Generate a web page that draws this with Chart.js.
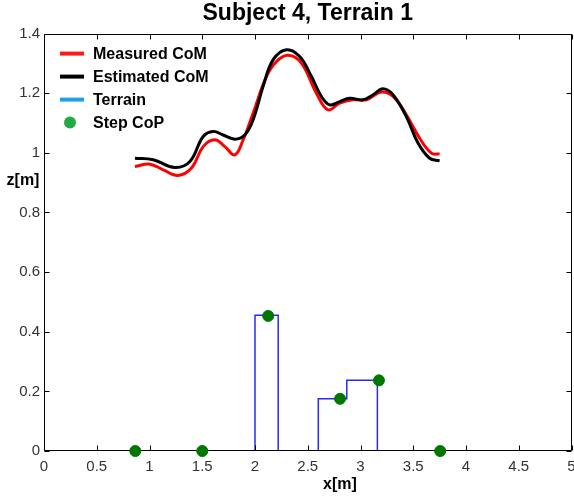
<!DOCTYPE html>
<html>
<head>
<meta charset="utf-8">
<title>Subject 4, Terrain 1</title>
<script src="https://cdn.jsdelivr.net/npm/chart.js@4.4.0/dist/chart.umd.min.js"></script>
<style>
    html, body { margin: 0; background: #fff; overflow: hidden; }
    canvas { display: block; }
</style>
</head>
<body>
<canvas id="myChart" width="578" height="497"></canvas>
<script>
// Measured CoM
var measuredX = [0.862, 1.004, 1.13, 1.27, 1.398, 1.509, 1.619, 1.714, 1.809, 1.888, 1.982, 2.108, 2.203, 2.314, 2.44, 2.582, 2.692, 2.803, 2.929, 3.056, 3.198, 3.308, 3.434, 3.561, 3.672, 3.75];
var measuredZ = [0.954, 0.962, 0.943, 0.924, 0.949, 1.021, 1.044, 1.021, 0.993, 1.044, 1.133, 1.256, 1.306, 1.327, 1.301, 1.200, 1.144, 1.167, 1.178, 1.178, 1.204, 1.189, 1.128, 1.049, 0.999, 0.996];

// Estimated CoM
var estimatedX = [0.862, 1.035, 1.24, 1.383, 1.509, 1.603, 1.698, 1.809, 1.903, 1.982, 2.077, 2.171, 2.298, 2.424, 2.535, 2.63, 2.708, 2.803, 2.898, 3.024, 3.119, 3.213, 3.308, 3.434, 3.545, 3.655, 3.75];
var estimatedZ = [0.982, 0.977, 0.951, 0.971, 1.055, 1.072, 1.060, 1.046, 1.060, 1.111, 1.223, 1.312, 1.346, 1.323, 1.256, 1.189, 1.161, 1.172, 1.183, 1.178, 1.195, 1.215, 1.195, 1.122, 1.033, 0.982, 0.973];

// Terrain (height changes at each x)
var terrainX = [0, 2.0, 2.22, 2.6, 2.87, 3.16, 5];
var terrainZ = [0, 0.455, 0, 0.175, 0.237, 0, 0];

// Step CoP
var copX = [0.865, 1.5, 2.125, 2.806, 3.175, 3.755];
var copZ = [0, 0, 0.453, 0.175, 0.237, 0];

var seriesLabels = ['Measured CoM', 'Estimated CoM', 'Terrain', 'Step CoP'];

function toPoints(xs, ys) {
    var pts = [];
    for (var i = 0; i < xs.length; i++) {
        pts.push({ x: xs[i], y: ys[i] });
    }
    return pts;
}

function fmt(value) {
    return String(Math.round(value * 10) / 10);
}

// box + inward ticks, drawn right after the terrain so the dots sit on top
var framePlugin = {
    id: 'frame',
    afterDatasetDraw: function (chart, args) {
        if (args.index !== 2) return;
        var ctx = chart.ctx;
        var a = chart.chartArea;
        var xs = chart.scales.x;
        var ys = chart.scales.y;
        var L = Math.round(a.left) + 0.5, R = Math.round(a.right) - 0.5;
        var T = Math.round(a.top) + 0.5, B = Math.round(a.bottom) - 0.5;
        ctx.save();
        ctx.strokeStyle = '#000';
        ctx.lineWidth = 1;
        ctx.beginPath();
        ctx.rect(L, T, R - L, B - T);
        xs.ticks.forEach(function (t) {
            var px = Math.round(xs.getPixelForValue(t.value)) + 0.5;
            ctx.moveTo(px, B); ctx.lineTo(px, B - 5);
            ctx.moveTo(px, T); ctx.lineTo(px, T + 5);
        });
        ys.ticks.forEach(function (t) {
            var py = Math.round(ys.getPixelForValue(t.value)) + 0.5;
            ctx.moveTo(L, py); ctx.lineTo(L + 5, py);
            ctx.moveTo(R, py); ctx.lineTo(R - 5, py);
        });
        ctx.stroke();
        ctx.restore();
    }
};

// legend inside the axes and the axis labels
var labelPlugin = {
    id: 'labels',
    afterDraw: function (chart) {
        var ctx = chart.ctx;
        var a = chart.chartArea;
        var legendColors = ['#ff1a1a', '#000000', '#1ea0e6', '#22aa44'];
        ctx.save();
        ctx.font = 'bold 16px "Liberation Sans", Arial, sans-serif';
        ctx.textBaseline = 'middle';
        ctx.textAlign = 'left';
        for (var i = 0; i < seriesLabels.length; i++) {
            var y = a.top + 20 + i * 23;
            ctx.fillStyle = legendColors[i];
            ctx.strokeStyle = legendColors[i];
            if (i < 3) {
                ctx.lineWidth = 4;
                ctx.beginPath();
                ctx.moveTo(a.left + 16, y);
                ctx.lineTo(a.left + 40, y);
                ctx.stroke();
            } else {
                ctx.beginPath();
                ctx.arc(a.left + 26, y, 6, 0, Math.PI * 2);
                ctx.fill();
            }
            ctx.fillStyle = '#000';
            ctx.fillText(seriesLabels[i], a.left + 49, y + 1);
        }
        ctx.textAlign = 'center';
        ctx.fillText('z[m]', 23, 181);
        ctx.fillText('x[m]', 340, 485);
        ctx.restore();
    }
};

window.onload = function () {

    var ctx = document.getElementById('myChart').getContext('2d');

    var myChart = new Chart(ctx, {
        type: 'line',
        data: {
            datasets: [{
                label: seriesLabels[3],
                type: 'scatter',
                data: toPoints(copX, copZ),
                backgroundColor: '#007800',
                borderColor: '#007800',
                pointRadius: 5.5,
                clip: false,
                order: 1
            },
            {
                label: seriesLabels[1],
                data: toPoints(estimatedX, estimatedZ),
                borderColor: '#000000',
                borderWidth: 3,
                pointRadius: 0,
                tension: 0.4,
                fill: false,
                order: 3
            },
            {
                label: seriesLabels[2],
                data: toPoints(terrainX, terrainZ),
                borderColor: 'rgb(40, 40, 255)',
                borderWidth: 1.5,
                pointRadius: 0,
                stepped: 'before',
                fill: false,
                order: 2
            },
            {
                label: seriesLabels[0],
                data: toPoints(measuredX, measuredZ),
                borderColor: '#ff0000',
                borderWidth: 3,
                pointRadius: 0,
                tension: 0.4,
                fill: false,
                order: 4
            }]
        },
        options: {
            responsive: false,
            animation: false,
            layout: {
                padding: { left: 0, right: 2, top: 0, bottom: 0 }
            },
            plugins: {
                legend: { display: false },
                tooltip: { enabled: false },
                title: {
                    display: true,
                    text: 'Subject 4, Terrain 1',
                    fullSize: false,
                    color: '#000',
                    font: { family: '"Liberation Sans", Arial, sans-serif', size: 23, weight: 'bold' },
                    padding: { top: 0, bottom: 6 }
                }
            },
            scales: {
                x: {
                    type: 'linear',
                    min: 0,
                    max: 5,
                    grid: { display: false, drawTicks: false, tickLength: 0 },
                    border: { display: false },
                    ticks: {
                        stepSize: 0.5,
                        autoSkip: false,
                        maxRotation: 0,
                        padding: 7,
                        color: '#333',
                        font: { family: '"Liberation Sans", Arial, sans-serif', size: 15 },
                        callback: fmt
                    },
                    afterFit: function (scale) {
                        scale.height = 46;
                        scale.paddingLeft = 0;
                        scale.paddingRight = 0;
                    }
                },
                y: {
                    min: 0,
                    max: 1.4,
                    grid: { display: false, drawTicks: false, tickLength: 0 },
                    border: { display: false },
                    ticks: {
                        stepSize: 0.2,
                        padding: 4,
                        color: '#333',
                        font: { family: '"Liberation Sans", Arial, sans-serif', size: 15 },
                        callback: fmt
                    },
                    afterFit: function (scale) {
                        scale.width = 44;
                        scale.paddingTop = 0;
                        scale.paddingBottom = 0;
                    }
                }
            }
        },
        plugins: [framePlugin, labelPlugin]
    });
};
</script>
</body>
</html>
